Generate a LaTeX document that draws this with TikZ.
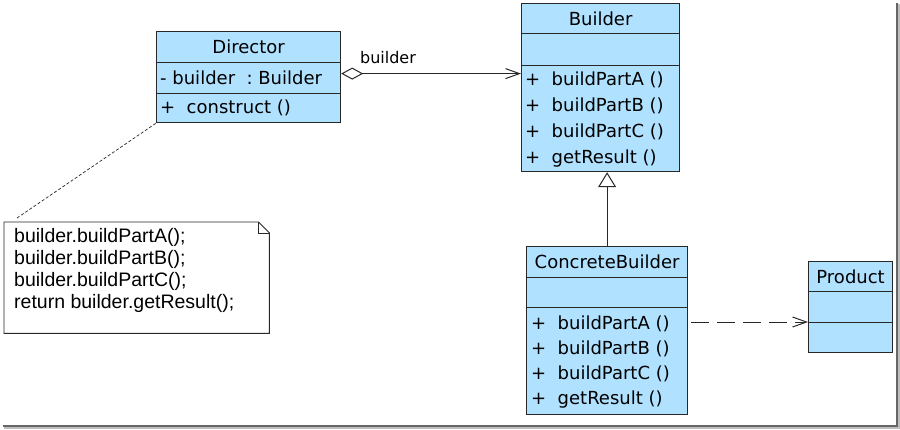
\documentclass[tikz,border=0pt]{standalone}
\usepackage{fontspec}
\setmainfont{DejaVu Sans}
\newfontfamily\notefont{Liberation Sans}
\usetikzlibrary{arrows.meta,calc}
\definecolor{classblue}{RGB}{176,226,255}
\definecolor{umlline}{RGB}{40,40,40}

\tikzset{
	part/.style={draw=umlline, fill=classblue, line width=1.2pt, anchor=north west, inner sep=0pt, font=\fontsize{18}{18}\selectfont},
	member/.style={anchor=base west, inner sep=0pt, font=\fontsize{18}{18}\selectfont},
	notetext/.style={anchor=base west, inner sep=0pt, font=\notefont\fontsize{19.5}{20}\selectfont},
	aggr/.style={draw=umlline, line width=1pt, {Diamond[open, length=22pt, width=12pt]}-{Straight Barb[length=14pt, width=10pt]}},
	gen/.style={draw=umlline, line width=1pt, -{Triangle[open, fill=white, length=15pt, width=18pt]}},
	dep/.style={draw=umlline, line width=1pt, dash pattern=on 18pt off 8pt, -{Straight Barb[length=14pt, width=10pt]}},
	noteline/.style={draw=umlline, line width=0.7pt, dash pattern=on 3pt off 2pt}
}

\begin{document}
\begin{tikzpicture}[x=1pt, y=-1pt]
			%%%%% FRAME %%%%%
			\useasboundingbox (0,0) rectangle (900,429);
			\fill[white] (0,0) rectangle (900,429);
			\draw[black!25, line width=1.5pt] (899,4) -- (899,428) -- (4,428);
			\draw[black!60, line width=1.5pt] (897,3) -- (897,426) -- (3,426);
			
			%%%%% DIRECTOR %%%%%
			\node[part, minimum width=184pt, minimum height=31pt] (dirname) at (156,31) {Director};
			\node[part, minimum width=184pt, minimum height=31pt] (dirattr) at (156,62) {};
			\node[part, minimum width=184pt, minimum height=29pt] (dirops) at (156,93) {};
			\node[member] (dirbuilder) at (160,84) {-\ builder\ \ :\ Builder};
			\node[member] (dirconstruct) at (160,113) {+\ \ construct ()};
			
			%%%%% BUILDER %%%%%
			\node[part, minimum width=158pt, minimum height=30pt] (bldname) at (521,3) {Builder};
			\node[part, minimum width=158pt, minimum height=32pt] (bldattr) at (521,33) {};
			\node[part, minimum width=158pt, minimum height=106pt] (bldops) at (521,65) {};
			\node[member] (bldA) at (525,85) {+\ \ buildPartA ()};
			\node[member] (bldB) at (525,111) {+\ \ buildPartB ()};
			\node[member] (bldC) at (525,137) {+\ \ buildPartC ()};
			\node[member] (bldR) at (525,163) {+\ \ getResult ()};
			
			%%%%% CONCRETE BUILDER %%%%%
			\node[part, minimum width=161pt, minimum height=31pt] (cbname) at (526,246) {ConcreteBuilder};
			\node[part, minimum width=161pt, minimum height=30pt] (cbattr) at (526,277) {};
			\node[part, minimum width=161pt, minimum height=107pt] (cbops) at (526,307) {};
			\node[member] (cbA) at (531,329) {+\ \ buildPartA ()};
			\node[member] (cbB) at (531,354) {+\ \ buildPartB ()};
			\node[member] (cbC) at (531,379) {+\ \ buildPartC ()};
			\node[member] (cbR) at (531,404) {+\ \ getResult ()};
			
			%%%%% PRODUCT %%%%%
			\node[part, minimum width=84pt, minimum height=30pt] (prodname) at (808,261) {Product};
			\node[part, minimum width=84pt, minimum height=31pt] (prodattr) at (808,291) {};
			\node[part, minimum width=84pt, minimum height=30pt] (prodops) at (808,322) {};
			
			%%%%% NOTE %%%%%
			\node[anchor=north west, inner sep=0pt, minimum width=265pt, minimum height=111pt] (note) at (4,222) {};
			\draw[umlline, line width=0.9pt, fill=white] (note.north west) -- ([xshift=-11pt]note.north east) -- ([yshift=-11pt]note.north east) -- (note.south east) -- (note.south west) -- cycle;
			\draw[umlline, line width=0.7pt] ([xshift=-11pt]note.north east) -- ([xshift=-11pt, yshift=-11pt]note.north east) -- ([yshift=-11pt]note.north east);
			\node[notetext] (noteA) at (14,242) {builder.buildPartA();};
			\node[notetext] (noteB) at (14,264) {builder.buildPartB();};
			\node[notetext] (noteC) at (14,286) {builder.buildPartC();};
			\node[notetext] (noteD) at (14,308) {return builder.getResult();};
			
			%%%%% CONNECTORS %%%%%
			\draw[aggr] ([yshift=4.5pt]dirattr.east) -- ([yshift=4.5pt]dirattr.east -| bldops.west);
			\node[font=\fontsize{16}{16}\selectfont, inner sep=0pt] (aggrlabel) at (388,58) {builder};
			\draw[gen] (cbname.north) -- (cbname.north |- bldops.south);
			\draw[dep] ([xshift=3pt]cbops.east |- prodops.north) -- (prodops.north west);
			\draw[noteline] ([xshift=13pt, yshift=4pt]note.north west) -- (dirops.south west);
			
			%%%%% END %%%%%
\end{tikzpicture}
\end{document}
